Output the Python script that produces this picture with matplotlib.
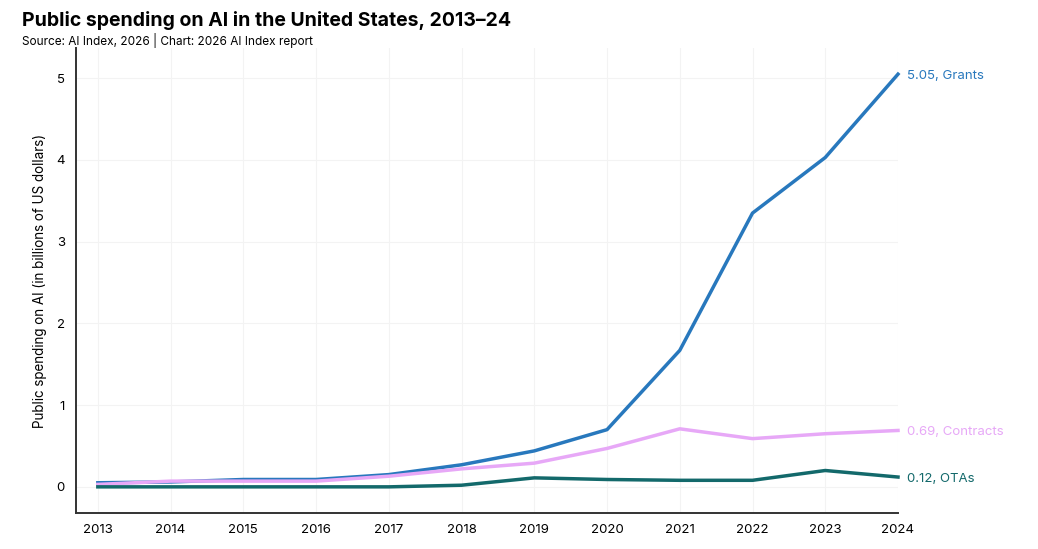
import matplotlib
matplotlib.use("Agg")
import matplotlib.pyplot as plt

plt.rcParams['font.family'] = ['Inter', 'DejaVu Sans']

years = [2013, 2014, 2015, 2016, 2017, 2018, 2019, 2020, 2021, 2022, 2023, 2024]
grants = [0.05, 0.06, 0.09, 0.09, 0.15, 0.27, 0.44, 0.70, 1.67, 3.35, 4.03, 5.05]
contracts = [0.03, 0.07, 0.07, 0.07, 0.13, 0.22, 0.29, 0.47, 0.71, 0.59, 0.65, 0.69]
otas = [0.0, 0.0, 0.0, 0.0, 0.0, 0.02, 0.11, 0.09, 0.08, 0.08, 0.20, 0.12]

series = [
    ("Grants", grants, "#2878bd"),
    ("Contracts", contracts, "#e7a8f7"),
    ("OTAs", otas, "#13696b"),
]

fig = plt.figure(figsize=(10.38, 5.49), dpi=100)
ax = fig.add_axes([76 / 1038, 1 - 513 / 549, (898 - 76) / 1038, (513 - 48) / 549])

for name, vals, col in series:
    ax.plot(years, vals, color=col, lw=2.5, clip_on=False, zorder=3)
    ax.text(years[-1] + 0.12, vals[-1], f"{vals[-1]:.2f}, {name}", color=col,
            fontsize=9.5, va="center_baseline", ha="left")

ax.set_xlim(2012.7, 2024)
ax.set_ylim(-0.32, 5.37)
ax.set_xticks(years)
ax.set_yticks([0, 1, 2, 3, 4, 5])
ax.grid(True, color="#f3f3f3", lw=0.8)
ax.set_axisbelow(True)
for s in ["top", "right"]:
    ax.spines[s].set_visible(False)
for s in ["left", "bottom"]:
    ax.spines[s].set_color("#333333")
    ax.spines[s].set_linewidth(1.4)
ax.tick_params(length=0, labelsize=9.5, pad=8)
ax.set_ylabel("Public spending on AI (in billions of US dollars)", fontsize=9.7, labelpad=7)

fig.text(22 / 1038, 1 - 20 / 549, "Public spending on AI in the United States, 2013\u201324",
         fontsize=14, weight="bold", va="center", ha="left")
fig.text(22 / 1038, 1 - 40 / 549, "Source: AI Index, 2026 | Chart: 2026 AI Index report",
         fontsize=8.5, va="center", ha="left")

fig.savefig("out.png", dpi=100)
